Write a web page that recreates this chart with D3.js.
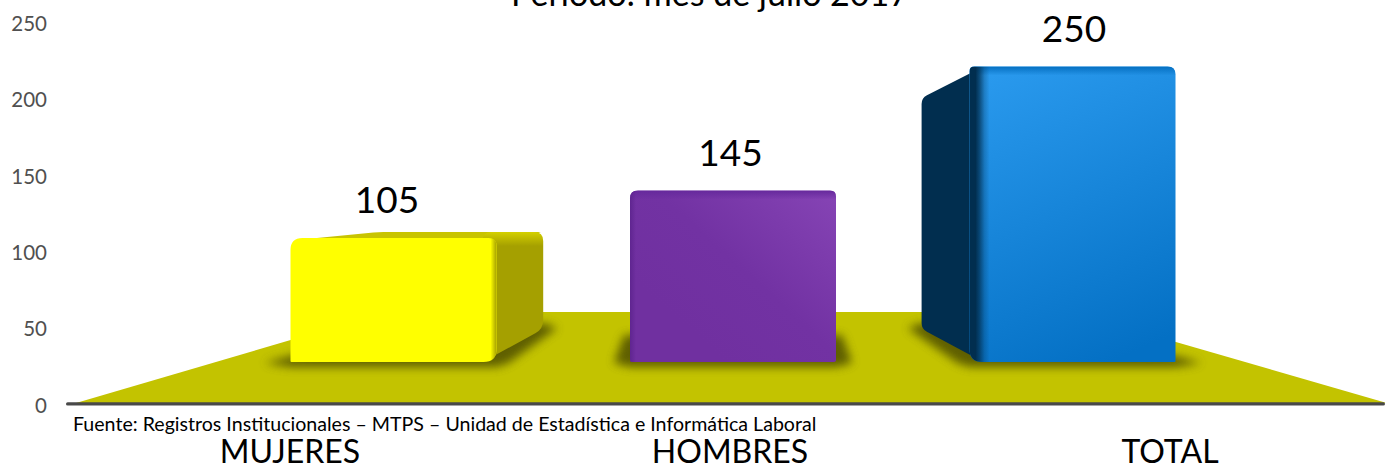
<!DOCTYPE html>
<html><head><meta charset="utf-8">
<script src="https://cdnjs.cloudflare.com/ajax/libs/d3/7.9.0/d3.min.js"></script>
<style>html,body{margin:0;padding:0;background:#fff;overflow:hidden}svg{display:block}text{font-family:Lato,"Open Sans",sans-serif}</style>
</head><body><svg id="c" width="1385" height="466"></svg>
<script>
const categories = ["MUJERES", "HOMBRES", "TOTAL"];
const values = [105, 145, 250];
const yTicks = [0, 50, 100, 150, 200, 250];
const titleText = "Periodo: mes de julio 2017";
const sourceText = "Fuente: Registros Institucionales – MTPS – Unidad de Estadística e Informática Laboral";

const svg = d3.select("#c");
const defs = svg.append("defs");
const W = 1385, vpX = 730, backK = 0.8, barW = 206;
const axisY = d3.scaleLinear().domain([0, 250]).range([405, 23.7]);
const frontY = d3.scaleLinear().domain([0, 250]).range([362, 66.5]);
const backY = d3.scaleLinear().domain([0, 250]).range([329, 98]);
const barX = d3.scalePoint().domain(categories).range([393.5, 1072.5]);
const labelX = d3.scalePoint().domain(categories).range([290, 1170]);
const valueX = d3.scalePoint().domain(categories).range([387, 1074]);
const backX = x => vpX + (x - vpX) * backK;

const f = defs.append("filter").attr("id", "blur").attr("filterUnits", "userSpaceOnUse")
  .attr("x", 0).attr("y", 0).attr("width", W).attr("height", 466);
f.append("feGaussianBlur").attr("stdDeviation", 5);
const s = defs.append("filter").attr("id", "soft").attr("filterUnits", "userSpaceOnUse")
  .attr("x", 0).attr("y", 0).attr("width", W).attr("height", 466);
s.append("feGaussianBlur").attr("stdDeviation", 0.6);

function lg(id, x1, y1, x2, y2, stops) {
  const g = defs.append("linearGradient").attr("id", id).attr("gradientUnits", "userSpaceOnUse")
    .attr("x1", x1).attr("y1", y1).attr("x2", x2).attr("y2", y2);
  stops.forEach(p => g.append("stop").attr("offset", p[0]).attr("stop-color", p[1]).attr("stop-opacity", p[2] === undefined ? 1 : p[2]));
}
lg("blueF", 985, 70, 1110, 362, [[0, "#2a9aee"], [1, "#0470c4"]]);
lg("purpF", 835, 190, 700, 340, [[0, "#8644b5"], [0.6, "#7232a3"], [1, "#7030a0"]]);
lg("yelS", 0, backY(values[0]), 0, backY(values[0]) + 14, [[0, "#d4d000"], [1, "#a5a000"]]);

// floor
svg.append("path").attr("fill", "#c3c300")
  .attr("d", d3.line()([[76, 403], [386, 312], [1072, 312], [W + 2, 403]]) + "Z");
// baseline
svg.append("rect").attr("x", 66).attr("y", 402.2).attr("width", W - 66).attr("height", 3.4).attr("rx", 1.7)
  .attr("fill", "#4a4a4a").attr("filter", "url(#soft)");

function rr(x0, y0, x1, y1, r) {
  const [a, b, c, d] = r;
  return `M${x0 + a},${y0}L${x1 - b},${y0}Q${x1},${y0} ${x1},${y0 + b}L${x1},${y1 - c}Q${x1},${y1} ${x1 - c},${y1}L${x0 + d},${y1}Q${x0},${y1} ${x0},${y1 - d}L${x0},${y0 + a}Q${x0},${y0} ${x0 + a},${y0}Z`;
}
function roundPoly(pts, r) {
  const n = pts.length; let d = "";
  pts.forEach((p, i) => {
    const a = pts[(i + n - 1) % n], b = pts[(i + 1) % n];
    const da = Math.hypot(a[0] - p[0], a[1] - p[1]), db = Math.hypot(b[0] - p[0], b[1] - p[1]);
    const p1 = [p[0] + (a[0] - p[0]) * r / da, p[1] + (a[1] - p[1]) * r / da];
    const p2 = [p[0] + (b[0] - p[0]) * r / db, p[1] + (b[1] - p[1]) * r / db];
    d += (i ? "L" : "M") + p1 + "Q" + p + " " + p2;
  });
  return d + "Z";
}

const looks = [
  {front: "#ffff00", side: "url(#yelS)", top: "#c8c400", radii: [12, 8, 13, 1], edge: "#a5a000", edgeW: 6, topEdge: null},
  {front: "url(#purpF)", side: "#5a2585", top: "#6d2e9e", radii: [8, 6, 2, 2], edge: "#5f2590", edgeW: 6, topEdge: "#66299c"},
  {front: "url(#blueF)", side: "#012e4f", top: "#0a5c9c", radii: [5, 8, 1, 13], edge: "#012e4f", edgeW: 20, topEdge: "#056fc0"}
];

categories.forEach((cat, i) => {
  const v = values[i], L = looks[i], cx = barX(cat);
  const x0 = cx - barW / 2, x1 = cx + barW / 2;
  const fy = frontY(v), fb = frontY(0), by = backY(v), bb = backY(0);
  const bx0 = backX(x0), bx1 = backX(x1);
  const g = svg.append("g");
  // contact shadow on the floor: hugs the base and any visible side face
  let sh;
  if (bx1 > x1) sh = [[x0 - 26, fb + 1], [x0, fb + 5], [x1, fb + 5], [x1 + 12, fb + 1], [bx1 + 14, bb - 1], [bx1, bb - 6], [x0, fb - 6]];
  else if (bx0 < x0) sh = [[x1 + 26, fb + 1], [x1, fb + 5], [x0, fb + 5], [x0 - 12, fb + 1], [bx0 - 14, bb - 1], [bx0, bb - 6], [x1, fb - 6]];
  else sh = [[x0 - 16, fb + 1], [x0, fb + 5], [x1, fb + 5], [x1 + 16, fb + 1], [x1 + 6, bb + 6], [x0 - 6, bb + 6]];
  g.append("path").attr("fill", "#565600").attr("opacity", .92).attr("filter", "url(#blur)")
    .attr("d", d3.line()(sh) + "Z");
  // top face (only where the back edge rises above the front)
  if (by < fy) {
    g.append("path").attr("fill", L.top)
      .attr("d", roundPoly([[x0 + 6, fy + 2], [bx0, by], [bx1, by], [x1, fy + 3]], 5));
  }
  // side face
  if (bx1 > x1) {
    g.append("path").attr("fill", L.side)
      .attr("d", roundPoly([[x1 - 14, Math.min(fy, by)], [bx1, by], [bx1, bb], [x1 - 14, fb]], 9));
  } else if (bx0 < x0) {
    g.append("path").attr("fill", L.side)
      .attr("d", roundPoly([[x0 + 14, fy], [bx0, by], [bx0, bb], [x0 + 14, fb]], 6));
  }
  // front face
  const clipId = "clip" + i;
  defs.append("clipPath").attr("id", clipId).append("path").attr("d", rr(x0, fy, x1, fb, L.radii));
  g.append("path").attr("d", rr(x0, fy, x1, fb, L.radii)).attr("fill", L.front);
  const over = g.append("g").attr("clip-path", `url(#${clipId})`);
  if (L.topEdge) {
    const tid = "topEdge" + i;
    lg(tid, 0, fy, 0, fy + 9, [[0, L.topEdge, 1], [1, L.topEdge, 0]]);
    over.append("rect").attr("x", x0).attr("y", fy).attr("width", barW).attr("height", 9).attr("fill", `url(#${tid})`);
  }
  // bevel bands
  const gid = "edge" + i;
  if (i === 0) {
    lg(gid, x1 - L.edgeW, 0, x1, 0, [[0, L.edge, 0], [1, L.edge, 1]]);
    over.append("rect").attr("x", x1 - L.edgeW).attr("y", fy).attr("width", L.edgeW).attr("height", fb - fy).attr("fill", `url(#${gid})`);
  } else if (i === 1) {
    lg(gid, x0, 0, x0 + L.edgeW, 0, [[0, L.edge, 1], [1, L.edge, 0]]);
    over.append("rect").attr("x", x0).attr("y", fy).attr("width", L.edgeW).attr("height", fb - fy).attr("fill", `url(#${gid})`);
  } else {
    lg(gid, x0, 0, x0 + L.edgeW, 0, [[0, L.edge, 1], [.3, L.edge, 1], [.5, L.edge, .72], [.75, L.edge, .25], [1, L.edge, 0]]);
    over.append("rect").attr("x", x0).attr("y", fy).attr("width", L.edgeW).attr("height", fb - fy).attr("fill", `url(#${gid})`);
  }
  // value label
  svg.append("text").attr("x", valueX(cat)).attr("y", fy - 24.5).attr("text-anchor", "middle")
    .attr("font-size", 37).attr("fill", "#000").text(v);
  // category label
  svg.append("text").attr("x", labelX(cat)).attr("y", 463).attr("text-anchor", "middle")
    .attr("font-size", 32).attr("fill", "#000").text(cat);
});

// y axis labels
svg.append("g").selectAll("text").data(yTicks).join("text")
  .attr("x", 47).attr("y", d => axisY(d) + 7.5).attr("text-anchor", "end")
  .attr("font-size", 20.5).attr("fill", "#505050").text(d => d);

svg.append("text").attr("x", 710).attr("y", 6).attr("text-anchor", "middle").attr("font-size", 34).attr("fill", "#000").text(titleText);
svg.append("text").attr("x", 73).attr("y", 431).attr("font-size", 19.6).attr("fill", "#000").text(sourceText);
</script></body></html>
